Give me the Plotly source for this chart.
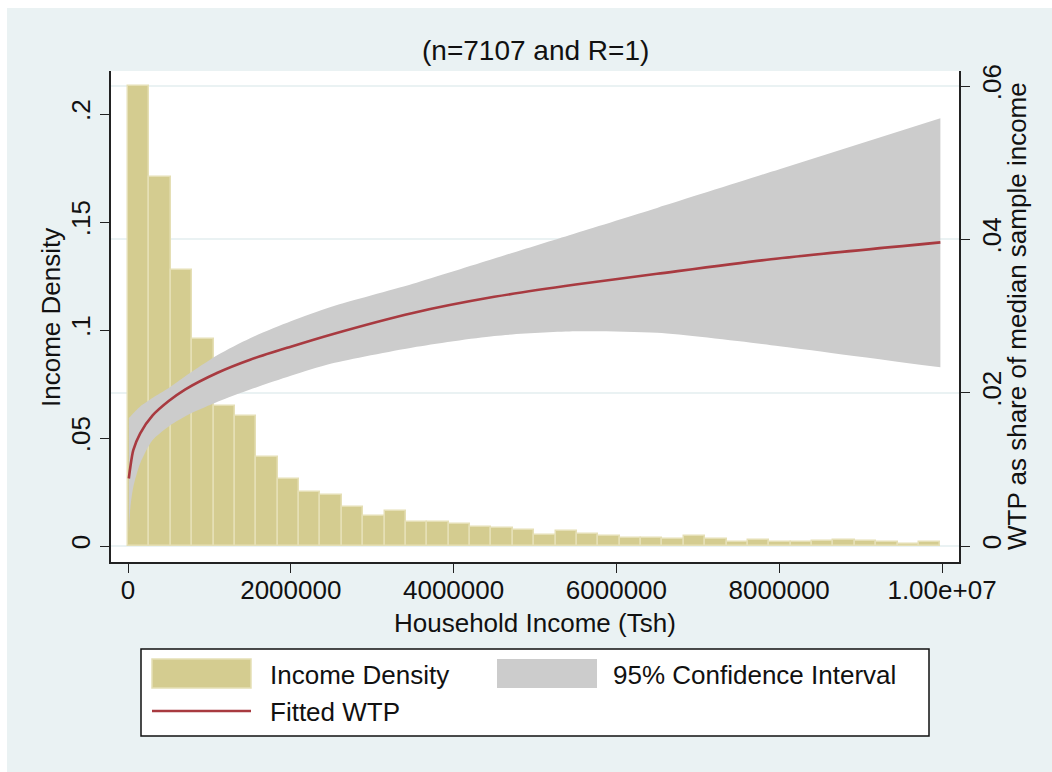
import plotly.graph_objects as go

# ---- data -------------------------------------------------------------
# Histogram of household income: share of households per bin (38 equal bins)
income_min = 0
income_max = 9_980_000
income_fraction = [
    0.213, 0.171, 0.128, 0.096, 0.065, 0.060, 0.041, 0.031, 0.025, 0.0236,
    0.018, 0.0139, 0.016, 0.0113, 0.0113, 0.0100, 0.0087, 0.0082, 0.0073, 0.0050,
    0.0069, 0.0054, 0.0048, 0.0038, 0.0038, 0.0032, 0.0045, 0.0031, 0.0017, 0.0026,
    0.0019, 0.0019, 0.0022, 0.0029, 0.0023, 0.0020, 0.0011, 0.0019,
]

# Fitted WTP (share of median sample income) and its 95% confidence band
wtp_income = [10_000, 30_000, 65_000, 150_000, 300_000, 500_000, 700_000, 1_100_000,
              1_500_000, 2_000_000, 2_500_000, 3_500_000, 4_500_000, 5_500_000,
              6_500_000, 7_900_000, 9_980_000]
wtp_fit = [0.0088, 0.0104, 0.0125, 0.0147, 0.0170, 0.0189, 0.0204, 0.0226, 0.0243,
           0.0260, 0.0276, 0.0304, 0.0325, 0.0341, 0.0355, 0.0374, 0.0396]
wtp_upper = [0.0167, 0.0169, 0.0173, 0.0182, 0.0193, 0.0206, 0.0221, 0.0249, 0.0271,
             0.0293, 0.0312, 0.0342, 0.0375, 0.0408, 0.0441, 0.0488, 0.0558]
wtp_lower = [0.0017, 0.0051, 0.0077, 0.0108, 0.0138, 0.0156, 0.0169, 0.0188, 0.0204,
             0.0222, 0.0238, 0.0259, 0.0274, 0.0280, 0.0278, 0.0262, 0.0233]

x_tickvals = [0, 2_000_000, 4_000_000, 6_000_000, 8_000_000, 10_000_000]
x_ticktext = ["0", "2000000", "4000000", "6000000", "8000000", "1.00e+07"]
y_tickvals = [0, 0.05, 0.1, 0.15, 0.2]
y_ticktext = ["0", ".05", ".1", ".15", ".2"]
y2_tickvals = [0, 0.02, 0.04, 0.06]
y2_ticktext = ["0", ".02", ".04", ".06"]

# ---- styling ------------------------------------------------------------
W, H = 1052, 772
PL, PR, PT, PB = 111, 959, 71, 562          # plot area in pixels
FONT = "Helvetica, Liberation Sans, Arial, sans-serif"
SAND = "#D4CC90"
SAND_EDGE = "#E5DFB5"
CI_GREY = "#CCCCCC"
WTP_RED = "#A83A40"
BG = "#EAF2F3"

bin_w = (income_max - income_min) / len(income_fraction)
bin_centers = [income_min + bin_w * (i + 0.5) for i in range(len(income_fraction))]


def px_x(p):
    return (p - PL) / (PR - PL)


def px_y(p):
    return (PB - p) / (PB - PT)


fig = go.Figure()

fig.add_trace(go.Bar(
    x=bin_centers, y=income_fraction, width=bin_w,
    marker=dict(color=SAND, line=dict(color=SAND_EDGE, width=1.5)),
    name="Income Density", yaxis="y", showlegend=False,
))

fig.add_trace(go.Scatter(
    x=wtp_income, y=wtp_lower, mode="lines", line=dict(width=0, shape="spline", smoothing=0.7),
    yaxis="y2", showlegend=False, hoverinfo="skip",
))
fig.add_trace(go.Scatter(
    x=wtp_income, y=wtp_upper, mode="lines", line=dict(width=0, shape="spline", smoothing=0.7),
    fill="tonexty", fillcolor=CI_GREY, yaxis="y2",
    name="95% Confidence Interval", showlegend=False,
))
fig.add_trace(go.Scatter(
    x=wtp_income, y=wtp_fit, mode="lines",
    line=dict(color=WTP_RED, width=2.6, shape="spline", smoothing=0.7),
    yaxis="y2", name="Fitted WTP", showlegend=False,
))

x_span = 10_000_000 / (942 - 128)
x_lo = 0 - (128 - PL) * x_span
x_hi = 10_000_000 + (PR - 942) * x_span

y_per_px = 0.2 / (546 - 114)
y2_per_px = 0.06 / (546 - 86)

axis_common = dict(
    showline=True, linecolor="#222222", linewidth=1.6,
    ticks="outside", ticklen=9, tickwidth=1.4, tickcolor="#222222",
    tickfont=dict(family=FONT, size=26, color="#111111"),
    zeroline=False,
)

fig.update_layout(
    width=W, height=H,
    margin=dict(l=PL, r=W - PR, t=PT, b=H - PB, autoexpand=False),
    paper_bgcolor=BG, plot_bgcolor="white",
    bargap=0,
    xaxis=dict(
        range=[x_lo, x_hi], tickvals=x_tickvals, ticktext=x_ticktext,
        showgrid=False, ticklabelstandoff=-5, **axis_common,
    ),
    yaxis=dict(
        range=[-(PB - 546) * y_per_px, (546 - PT) * y_per_px],
        tickvals=y_tickvals, ticktext=y_ticktext, tickangle=-90,
        showgrid=False, **axis_common,
    ),
    yaxis2=dict(
        range=[-(PB - 546) * y2_per_px, (546 - PT) * y2_per_px],
        tickvals=y2_tickvals, ticktext=y2_ticktext, tickangle=-90,
        overlaying="y", side="right",
        showgrid=True, gridcolor=BG, gridwidth=1.6,
        **axis_common,
    ),
    showlegend=False,
)

shapes = [
    # thin white strips at the page edge
    dict(type="rect", xref="paper", yref="paper", layer="below",
         x0=px_x(0), x1=px_x(7), y0=px_y(H), y1=px_y(0),
         fillcolor="white", line=dict(width=0)),
    dict(type="rect", xref="paper", yref="paper", layer="below",
         x0=px_x(0), x1=px_x(W), y0=px_y(8), y1=px_y(0),
         fillcolor="white", line=dict(width=0)),
    # legend box
    dict(type="rect", xref="paper", yref="paper",
         x0=px_x(141), x1=px_x(929), y0=px_y(736), y1=px_y(649),
         fillcolor="white", line=dict(color="#111111", width=1.5)),
    # legend keys
    dict(type="rect", xref="paper", yref="paper",
         x0=px_x(152), x1=px_x(251), y0=px_y(688), y1=px_y(659),
         fillcolor=SAND, line=dict(color=SAND_EDGE, width=1.5)),
    dict(type="rect", xref="paper", yref="paper",
         x0=px_x(497), x1=px_x(597), y0=px_y(688), y1=px_y(659),
         fillcolor=CI_GREY, line=dict(width=0)),
    dict(type="line", xref="paper", yref="paper",
         x0=px_x(152), x1=px_x(251), y0=px_y(711), y1=px_y(711),
         line=dict(color=WTP_RED, width=2.6)),
]
fig.update_layout(shapes=shapes)

text_font = dict(family=FONT, size=26, color="#111111")
annotations = [
    dict(text="(n=7107 and R=1)", x=px_x(535), y=px_y(50), xref="paper", yref="paper",
         showarrow=False, xanchor="center", yanchor="middle", font=dict(family=FONT, size=28, color="#111111")),
    dict(text="Household Income (Tsh)", x=px_x(535), y=px_y(623), xref="paper", yref="paper",
         showarrow=False, xanchor="center", yanchor="middle", font=text_font),
    dict(text="Income Density", x=px_x(51), y=px_y(318), xref="paper", yref="paper",
         showarrow=False, xanchor="center", yanchor="middle", textangle=-90, font=text_font),
    dict(text="WTP as share of median sample income", x=px_x(1017), y=px_y(316), xref="paper", yref="paper",
         showarrow=False, xanchor="center", yanchor="middle", textangle=-90, font=text_font),
    dict(text="Income Density", x=px_x(268), y=px_y(675), xref="paper", yref="paper",
         showarrow=False, xanchor="left", yanchor="middle", font=text_font),
    dict(text="95% Confidence Interval", x=px_x(611), y=px_y(675), xref="paper", yref="paper",
         showarrow=False, xanchor="left", yanchor="middle", font=text_font),
    dict(text="Fitted WTP", x=px_x(268), y=px_y(712), xref="paper", yref="paper",
         showarrow=False, xanchor="left", yanchor="middle", font=text_font),
]
fig.update_layout(annotations=annotations)

fig.write_html("out.html")
